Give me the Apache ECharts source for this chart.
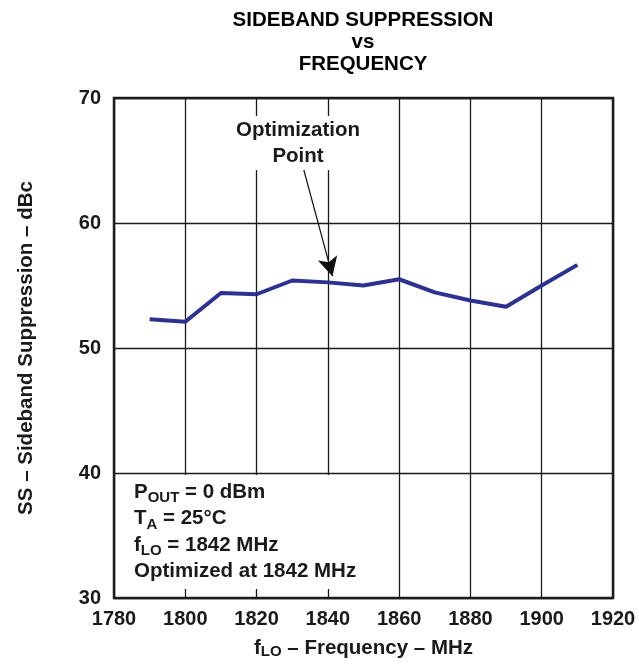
<!DOCTYPE html>
<html>
<head>
<meta charset="utf-8">
<script src="https://cdn.jsdelivr.net/npm/echarts@6/dist/echarts.min.js"></script>
<style>
  html, body { margin: 0; padding: 0; background: #fff; }
  #chart { width: 639px; height: 664px; }
</style>
</head>
<body>
<div id="chart"></div>
<script>
// sideband suppression vs LO frequency
var freq = [1790, 1800, 1810, 1820, 1830, 1840, 1850, 1860, 1870, 1880, 1890, 1900, 1910];
var ss = [52.3, 52.1, 54.4, 54.3, 55.4, 55.25, 55.0, 55.5, 54.45, 53.8, 53.3, 55.0, 56.65];

var xTicks = [1780, 1800, 1820, 1840, 1860, 1880, 1900, 1920];
var yTicks = [30, 40, 50, 60, 70];

// arrow for "Optimization Point" (data coords)
var arrowFrom = [1833.2, 64.3];
var arrowTo = [1841.3, 55.75];

var notes = [
  'P{sub|OUT} = 0 dBm',
  'T{sub|A} = 25°C',
  'f{sub|LO} = 1842 MHz',
  'Optimized at 1842 MHz'
];

var font = '"Liberation Sans", Arial, Helvetica, sans-serif';
var ink = '#1a1a1a';

var chart = echarts.init(document.getElementById('chart'));

var data = freq.map(function (f, i) { return [f, ss[i]]; });

var option = {
  animation: false,
  backgroundColor: '#fff',
  textStyle: { fontFamily: font },
  grid: {
    left: 114, right: 26, top: 98, bottom: 66,
    show: true,
    borderColor: '#222',
    borderWidth: 2.5
  },
  xAxis: {
    type: 'value',
    min: xTicks[0],
    max: xTicks[xTicks.length - 1],
    interval: 20,
    name: 'f{sub|LO} – Frequency – MHz',
    nameLocation: 'middle',
    nameGap: 40,
    nameTextStyle: {
      fontFamily: font, fontWeight: 'bold', fontSize: 20.5, color: ink,
      rich: {
        sub: { fontFamily: font, fontWeight: 'bold', fontSize: 15, color: ink, verticalAlign: 'bottom', lineHeight: 14 }
      }
    },
    axisLine: { show: false },
    axisTick: { show: false },
    axisLabel: {
      fontFamily: font, fontWeight: 'bold', fontSize: 20, color: ink, margin: 11,
      formatter: function (v) { return String(v); }
    },
    splitLine: { show: true, lineStyle: { color: ink, width: 1.3 } }
  },
  yAxis: {
    type: 'value',
    min: yTicks[0],
    max: yTicks[yTicks.length - 1],
    interval: 10,
    name: 'SS – Sideband Suppression – dBc',
    nameLocation: 'middle',
    nameGap: 77,
    nameTextStyle: { fontFamily: font, fontWeight: 'bold', fontSize: 20.5, color: ink },
    axisLine: { show: false },
    axisTick: { show: false },
    axisLabel: { fontFamily: font, fontWeight: 'bold', fontSize: 20, color: ink, margin: 13 },
    splitLine: { show: true, lineStyle: { color: ink, width: 1.3 } }
  },
  series: [{
    type: 'line',
    data: data,
    symbol: 'none',
    lineStyle: { color: '#2d3190', width: 4 },
    z: 5,
    markLine: {
      silent: true,
      symbol: ['none', 'arrow'],
      symbolSize: [15, 19],
      label: { show: false },
      lineStyle: { color: '#111', width: 1.2, type: 'solid' },
      data: [[{ coord: arrowFrom }, { coord: arrowTo }]]
    }
  }],
  graphic: [
    {
      // title, centred over the plot area
      type: 'text', z: 100,
      x: 363, y: 9,
      style: {
        text: 'SIDEBAND SUPPRESSION\nvs\nFREQUENCY',
        font: 'bold 20.5px ' + font,
        fill: '#000',
        align: 'center',
        lineHeight: 22
      }
    },
    {
      type: 'text', z: 100,
      x: 298, y: 143,
      style: {
        text: 'Optimization\nPoint',
        font: 'bold 20.5px ' + font,
        fill: ink,
        align: 'center',
        verticalAlign: 'middle',
        lineHeight: 26,
        backgroundColor: '#fff',
        padding: [1, 3, 1, 3]
      }
    },
    {
      type: 'rect', z: 90,
      shape: { x: 116, y: 475, width: 280, height: 114 },
      style: { fill: '#fff' }
    },
    {
      type: 'text', z: 100,
      x: 134, y: 479,
      style: {
        text: notes.join('\n'),
        font: 'bold 20.5px ' + font,
        fill: ink,
        lineHeight: 26.5,
        rich: {
          sub: { font: 'bold 15px ' + font, fill: ink, verticalAlign: 'bottom', lineHeight: 17 }
        }
      }
    }
  ]
};

chart.setOption(option);
</script>
</body>
</html>
